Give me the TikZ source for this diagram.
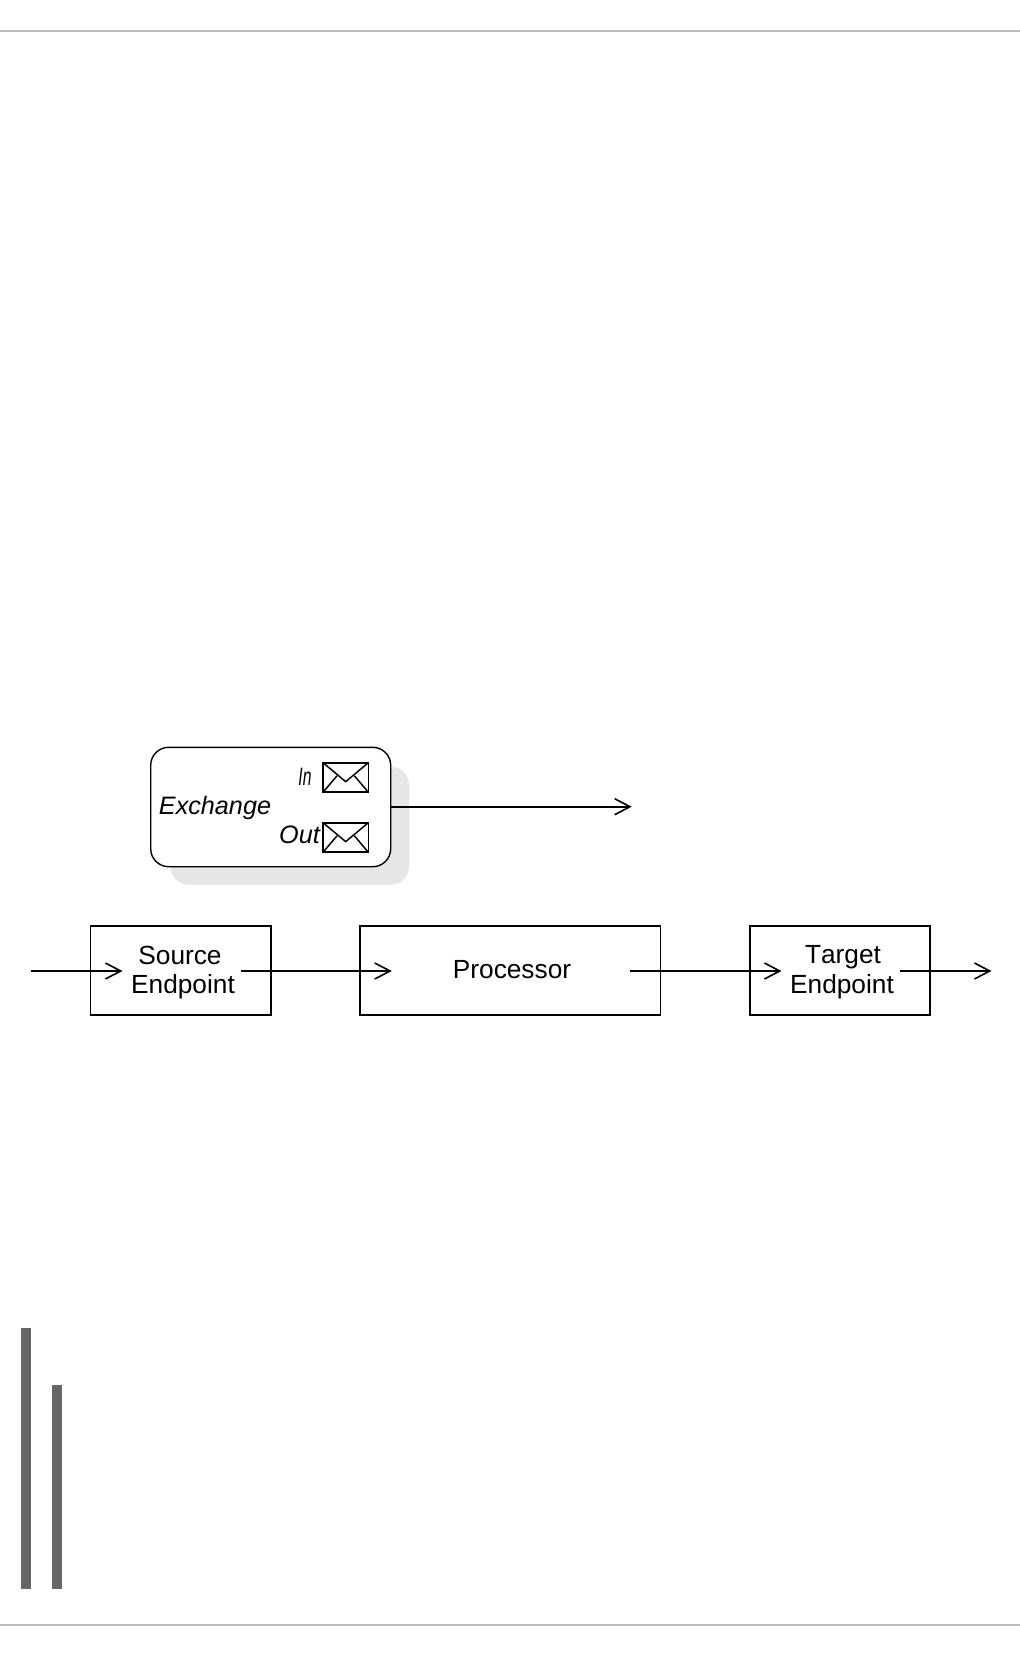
\documentclass[tikz,border=0pt]{standalone}
\usepackage{fontspec}
\setmainfont[Kerning=Off]{Liberation Sans}
\usetikzlibrary{arrows.meta}
\definecolor{rulegray}{HTML}{BBBBBB}
\definecolor{bargray}{HTML}{666666}
\definecolor{shadowgray}{HTML}{E6E6E6}
\tikzset{
  flowbox/.style={draw=black,line width=1.05pt,fill=white},
  flowarrow/.style={draw=black,line width=1.35pt,-{Straight Barb[length=11.5pt,width=12pt,line width=1.2pt]}},
  envelopebox/.style={draw=black,line width=1.3pt,fill=white,minimum width=34pt,minimum height=22.2pt,inner sep=0pt,outer sep=0pt},
  envelopeline/.style={draw=black,line width=1.1pt},
  endpointtext/.style={font=\fontsize{19.7}{22.3}\selectfont,align=center,inner sep=0pt,text=black},
  italictext/.style={font=\fontsize{18.9}{22}\selectfont\itshape,inner sep=0pt,anchor=base,text=black},
  rulerline/.style={draw=rulegray,line width=1.5pt},
  sidebar/.style={fill=bargray,draw=none}
}
\begin{document}
\begin{tikzpicture}[x=0.75pt,y=-0.75pt]
\useasboundingbox (0,0) rectangle (1020,1656);
\fill[white] (0,0) rectangle (1020,1656);
% page rules
\coordinate (ruleTopL) at (0,31); \coordinate (ruleTopR) at (1020,31);
\coordinate (ruleBotL) at (0,1625); \coordinate (ruleBotR) at (1020,1625);
\draw[rulerline] (ruleTopL) -- (ruleTopR);
\draw[rulerline] (ruleBotL) -- (ruleBotR);
% side bars
\fill[sidebar] (21,1328) rectangle (31,1589);
\fill[sidebar] (52,1385) rectangle (62,1589);
% exchange
\fill[shadowgray,rounded corners=13.5pt] (170.7,766.7) rectangle (409,884.7);
\draw[flowbox,rounded corners=13.5pt] (150.7,747.3) rectangle (390.7,866.7);
\coordinate (exchangeEdge) at (390.7,806.7);
\coordinate (exchangeEnd) at (631.7,806.7);
\node[italictext] (exchangeLabel) at (215,814.5) {Exchange};
\node[italictext,xscale=0.62] (inLabel) at (305,785) {In};
\node[italictext] (outLabel) at (299.5,843) {Out};
\foreach \nm/\cy in {inEnv/777.5,outEnv/837.5}{
  \node[envelopebox] (\nm) at (345.7,\cy) {};
  \draw[envelopeline] (\nm.north west) -- ([yshift=-14.2pt]\nm.north) -- (\nm.north east);
  \draw[envelopeline] (\nm.south west) -- ([xshift=10.5pt,yshift=-9.8pt]\nm.north west);
  \draw[envelopeline] (\nm.south east) -- ([xshift=-10.5pt,yshift=-9.8pt]\nm.north east);
}
\draw[flowarrow] (exchangeEdge) -- (exchangeEnd);
% flow boxes
\draw[flowbox] (90.7,926) rectangle (271,1015);
\draw[flowbox] (360,926) rectangle (660.7,1015);
\draw[flowbox] (750,926) rectangle (930,1015);
\node[endpointtext] (sourceLabel) at (183,972.5) {Source\kern 4.5pt\hbox{}\\Endpoint};
\node[endpointtext,anchor=base] (processorLabel) at (512,978.5) {Processor};
\node[endpointtext] (targetLabel) at (842,972.5) {\hbox{}\kern 1.5pt Target\\Endpoint};
\coordinate (a1s) at (31,971); \coordinate (a1e) at (122.5,971);
\coordinate (a2s) at (240.7,971); \coordinate (a2e) at (391.8,971);
\coordinate (a3s) at (630,971); \coordinate (a3e) at (781.5,971);
\coordinate (a4s) at (900,971); \coordinate (a4e) at (991.5,971);
\draw[flowarrow] (a1s) -- (a1e);
\draw[flowarrow] (a2s) -- (a2e);
\draw[flowarrow] (a3s) -- (a3e);
\draw[flowarrow] (a4s) -- (a4e);
\end{tikzpicture}
\end{document}
